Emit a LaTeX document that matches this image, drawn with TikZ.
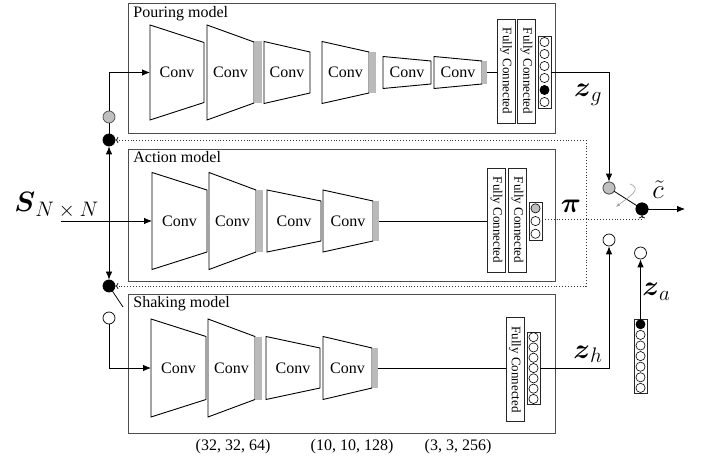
\RequirePackage{fix-cm}
\documentclass[tikz,border=0pt]{standalone}
\usepackage{amsmath}
\usepackage{graphicx}
\usepackage{fontspec}
\setmainfont{Liberation Serif}
\usetikzlibrary{arrows.meta}
\newcommand\convblk[6]{% name, xl, xr, yc, hl, hr
  \draw[trap] (#2,#4-#5) -- (#3,#4-#6) -- (#3,#4+#6) -- (#2,#4+#5) -- cycle;
  \node[convtxt] (#1) at ({(#2+#3)/2},#4) {Conv};
  \coordinate (#1w) at (#2,#4);
}
\newcommand\barblk[5]{% name, xl, xr, yc, h
  \fill[black!27] (#2,#4-#5) rectangle (#3,#4+#5);
  \coordinate (#1) at (#3,#4);
}
\newcommand\vecblk[6]{% name, xc, ytop, n, pitch, fills
  \node[draw=black!85, line width=0.7pt, minimum width=13pt, minimum height={#4*#5pt}, inner sep=0pt, anchor=north] (#1) at (#2,#3) {};
  \foreach \fc [count=\i] in {#6}{\draw[line width=0.6pt, fill=\fc] (#2,{#3+(\i-0.5)*#5}) circle[radius=4.6pt];}
}
\newcommand\bsub[2]{$\boldsymbol{#1}_{\mbox{\fontsize{21}{23}\selectfont$#2$}}$}
\begin{document}
\begin{tikzpicture}[x=1pt,y=-1pt,line width=0.8pt,
  mbox/.style={draw=black!70, line width=0.8pt, inner sep=0pt, anchor=north west},
  trap/.style={draw=black, line width=0.9pt, fill=white},
  convtxt/.style={font=\fontsize{16}{19}\selectfont, inner sep=0pt},
  title/.style={font=\fontsize{16}{19}\selectfont, anchor=base west, inner sep=0pt},
  fcbox/.style={draw=black!85, line width=0.8pt, minimum width=18pt, minimum height=104pt, inner sep=0pt, font=\fontsize{13}{15}\selectfont},
  arr/.style={-{Latex[length=8pt,width=6.5pt]}},
  dotl/.style={dotted, line width=0.9pt, draw=black!80},
  dim/.style={font=\fontsize{16}{19}\selectfont, inner sep=0pt},
  sym/.style={font=\fontsize{28}{30}\selectfont, inner sep=0pt},
  swg/.style={circle, draw=black!70, fill=black!25, line width=0.7pt, minimum size=12pt, inner sep=0pt},
  swk/.style={circle, draw=black, fill=black, minimum size=12pt, inner sep=0pt},
  sww/.style={circle, draw=black, fill=white, line width=0.7pt, minimum size=12pt, inner sep=0pt}]
\useasboundingbox (0,0) rectangle (704,462);
% model boxes
\node[mbox, minimum width=427pt, minimum height=130pt] (pourbox) at (128,3) {};
\node[mbox, minimum width=427pt, minimum height=132pt] (actbox) at (128,149) {};
\node[mbox, minimum width=427pt, minimum height=139pt] (shakebox) at (128,294) {};
\node[title] (pourtitle) at (133,18) {Pouring model};
\node[title] (acttitle) at (133,163) {Action model};
\node[title] (shaketitle) at (133,308) {Shaking model};
% pouring network
\convblk{pc1}{150}{204}{72.5}{47.5}{30}
\convblk{pc2}{207}{254}{72.5}{47.5}{30.5}
\barblk{pb1}{254}{262}{72.5}{31}
\convblk{pc3}{264}{310}{72.5}{31}{20.5}
\convblk{pc4}{322}{369}{72.5}{31}{20.5}
\barblk{pb2}{369}{376}{72.5}{20.5}
\convblk{pc5}{383}{431}{72.5}{16}{11.5}
\convblk{pc6}{434}{482}{72.5}{16}{11.5}
\barblk{pb3}{482}{487}{72.5}{11.5}
\node[fcbox] (pfc1) at (506,71) {\rotatebox{-90}{Fully Connected}};
\node[fcbox] (pfc2) at (526.5,71) {\rotatebox{-90}{Fully Connected}};
\vecblk{pvec}{544.5}{36}{6}{12}{white,white,white,white,black,white}
\draw (pb3) -- (pfc1.west |- pb3);
% action network
\convblk{ac1}{152}{207}{221}{48.5}{31}
\convblk{ac2}{209}{256}{221}{48.5}{31}
\barblk{ab1}{256}{263}{221}{31}
\convblk{ac3}{267}{321}{221}{31}{20}
\convblk{ac4}{323}{373}{221}{31}{20}
\barblk{ab2}{373}{379}{221}{20}
\node[fcbox] (afc1) at (496.5,220) {\rotatebox{-90}{Fully Connected}};
\node[fcbox] (afc2) at (517.5,220) {\rotatebox{-90}{Fully Connected}};
\vecblk{avec}{535.5}{202}{3}{12.7}{black!25,white,white}
\draw (ab2) -- (afc1.west |- ab2);
% shaking network
\convblk{sc1}{151}{206}{368}{49}{31.5}
\convblk{sc2}{208}{255}{368}{49}{31.5}
\barblk{sb1}{255}{262}{368}{31.5}
\convblk{sc3}{266}{320}{368}{31.5}{20}
\convblk{sc4}{323}{372}{368}{31.5}{20}
\barblk{sb2}{372}{378}{368}{20}
\node[fcbox] (sfc) at (515,369.5) {\rotatebox{-90}{Fully Connected}};
\vecblk{svec}{533.5}{332}{7}{10.3}{white,white,white,white,white,white,white}
\draw (sb2) -- (sfc.west |- sb2);
% dimension labels
\node[dim] (d1) at (233,447) {(32, 32, 64)};
\node[dim] (d2) at (352,447) {(10, 10, 128)};
\node[dim] (d3) at (458,447) {(3, 3, 256)};
% input and left switches
\node[sym, anchor=base west] (Slab) at (14,212) {\bsub{S}{N\times N}};
\coordinate (Sin) at (61,221);
\coordinate (split) at (109,221);
\node[swg] (tsg) at (109,117) {};
\node[swk] (tdot) at (109,140) {};
\node[swk] (bdot) at (109,286) {};
\node[sww] (bsw) at (109,318) {};
\coordinate (barm) at (123,307);
\draw[arr] (Sin) -- (ac1w);
\draw[arr] (split) -- (tdot.south);
\draw[arr] (split) -- (bdot.north);
\draw (tdot.north) -- (tsg.south);
\draw[arr] (tsg.north) |- (pc1w);
\draw (bdot.center) -- (barm);
\draw[arr] (bsw.south) |- (sc1w);
% right side
\node[swg] (gsw) at (609,188) {};
\node[swk] (ksw) at (642,209) {};
\node[sww] (wsh) at (609,240) {};
\node[sww] (wza) at (640.5,253) {};
\vecblk{zavec}{640.5}{319}{7}{10.6}{black,white,white,white,white,white,white}
\coordinate (cout) at (685,209);
\coordinate (pvo) at (pvec.east |- pb3);
\coordinate (svo) at (svec.east |- sb2);
\coordinate (avo) at (542,219);
\coordinate (dj) at (586,219);
\draw[arr] (pvo) -| (gsw.north);
\draw[arr] (svo) -| (wsh.south);
\draw[arr] (zavec.north) -- (wza.south);
\draw (gsw.center) -- (ksw.center);
\node[swg] at (gsw) {};
\node[swk] at (ksw) {};
\draw[arr] (ksw.east) -- (cout);
\draw[black!35, line width=0.7pt, -{Latex[length=4pt,width=3.5pt]}] (630,184) .. controls (644,189) and (627,198) .. (616,207);
\draw[dotl, -{To[length=3pt]}] (avo) -| (ksw.south);
\draw[dotl, -{To[length=3pt]}] (dj) |- (tdot.east);
\draw[dotl, -{To[length=3pt]}] (dj) |- (bdot.east);
% labels
\node[sym, anchor=base] (zg) at (588,97) {\bsub{z}{g}};
\node[sym, anchor=base] (zh) at (588,358) {\bsub{z}{h}};
\node[sym, anchor=base west] (za) at (642,296) {\bsub{z}{a}};
\node[sym, anchor=base] (pil) at (571,213) {$\boldsymbol{\pi}$};
\node[font=\fontsize{27}{29}\selectfont, inner sep=0pt, anchor=base] (ctl) at (658,199) {$\tilde{c}$};
\end{tikzpicture}
\end{document}
